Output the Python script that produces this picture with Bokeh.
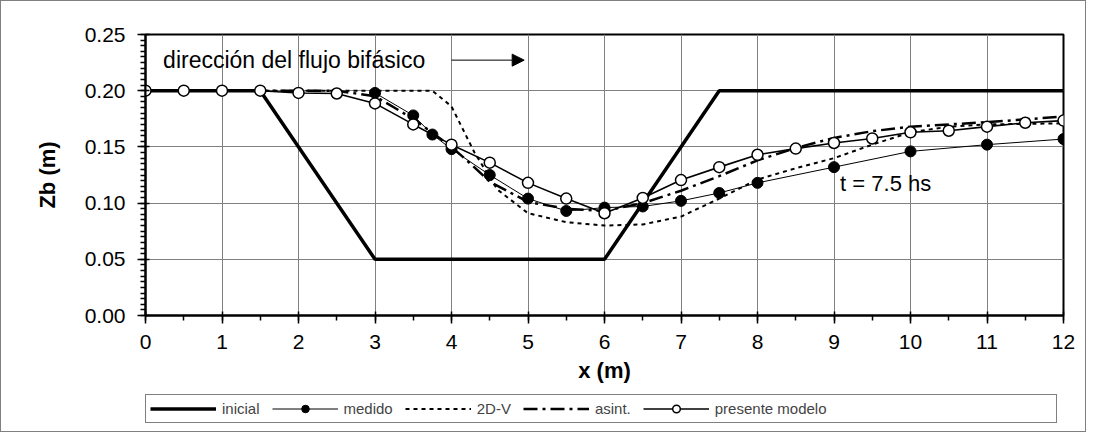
from bokeh.plotting import figure
from bokeh.layouts import column
from bokeh.models import (Range1d, FixedTicker, PrintfTickFormatter, Legend, LegendItem,
                          Label, Arrow, NormalHead)
from bokeh.embed import file_html
from bokeh.resources import INLINE

# ---- data ----
ini_x = [0, 1.5, 3, 6, 7.5, 12]
ini_y = [0.20, 0.20, 0.05, 0.05, 0.20, 0.20]

med_x = [3, 3.5, 3.75, 4, 4.5, 5, 5.5, 6, 6.5, 7, 7.5, 8, 9, 10, 11, 12]
med_y = [0.198, 0.178, 0.161, 0.148, 0.125, 0.104, 0.093, 0.096, 0.097, 0.102,
         0.109, 0.118, 0.132, 0.146, 0.152, 0.157]

v2d_x = [0, 3.75, 4.0, 4.3, 4.6, 5.0, 5.5, 6.0, 6.5, 7.0, 7.5, 8.0, 8.5, 9.0, 9.5,
         10.0, 10.5, 11.0, 12.0]
v2d_y = [0.200, 0.200, 0.186, 0.145, 0.112, 0.091, 0.083, 0.080, 0.081, 0.088, 0.104,
         0.121, 0.131, 0.140, 0.152, 0.163, 0.168, 0.170, 0.171]

asi_x = [0, 2.5, 3.0, 3.5, 4.0, 4.25, 4.5, 5.0, 5.5, 6.0, 6.5, 7.0, 7.5, 8.0, 8.5,
         9.0, 9.5, 10.0, 11.0, 12.0]
asi_y = [0.200, 0.200, 0.195, 0.175, 0.150, 0.135, 0.119, 0.101, 0.095, 0.093, 0.100,
         0.111, 0.124, 0.138, 0.149, 0.158, 0.164, 0.168, 0.172, 0.177]

mod_x = [0, 0.5, 1, 1.5, 2, 2.5, 3, 3.5, 4, 4.5, 5, 5.5, 6, 6.5, 7, 7.5, 8, 8.5, 9,
         9.5, 10, 10.5, 11, 11.5, 12]
mod_y = [0.200, 0.200, 0.200, 0.200, 0.198, 0.1975, 0.1887, 0.170, 0.152, 0.136,
         0.118, 0.104, 0.091, 0.1046, 0.1205, 0.132, 0.143, 0.1485, 0.1535, 0.1575,
         0.163, 0.1644, 0.168, 0.1715, 0.1734]

series_names = ["inicial", "medido", "2D-V", "asint.", "presente modelo"]

x_ticks = list(range(0, 13))
y_ticks = [0.0, 0.05, 0.10, 0.15, 0.20, 0.25]

FONT = "Liberation Sans"
BORDER = "1px solid #7f7f7f"

p = figure(width=1086, height=394, x_range=Range1d(0, 12), y_range=Range1d(0, 0.25),
           output_backend="svg", toolbar_location=None,
           min_border_left=129, min_border_right=24, min_border_top=33,
           min_border_bottom=80)
p.styles = {"border-left": BORDER, "border-right": BORDER, "border-top": BORDER}
p.background_fill_color = "white"
p.border_fill_color = "white"
p.outline_line_color = "black"
p.outline_line_width = 2

p.xaxis.ticker = FixedTicker(ticks=x_ticks, minor_ticks=[i * 0.5 for i in range(25)])
p.yaxis.ticker = FixedTicker(ticks=y_ticks, minor_ticks=[i * 0.005 for i in range(51)])
p.yaxis.formatter = PrintfTickFormatter(format="%.2f")

for ax in (p.xaxis, p.yaxis):
    ax.axis_line_color = "black"
    ax.axis_line_width = 2
    ax.major_tick_line_color = "black"
    ax.major_tick_line_width = 1.5
    ax.minor_tick_line_color = "black"
    ax.minor_tick_line_width = 1.5
    ax.major_tick_in = 4
    ax.major_tick_out = 8
    ax.minor_tick_in = 0
    ax.minor_tick_out = 5
    ax.major_label_text_font = FONT
    ax.major_label_text_font_size = "21px"
    ax.major_label_text_color = "black"
    ax.axis_label_text_font = FONT
    ax.axis_label_text_font_size = "22px"
    ax.axis_label_text_font_style = "bold"
    ax.axis_label_text_color = "black"

p.xaxis.axis_label = "x (m)"
p.yaxis.axis_label = "Zb (m)"
p.xaxis.major_label_standoff = 11
p.xaxis.axis_label_standoff = 6
p.yaxis.major_label_standoff = 12
p.yaxis.axis_label_standoff = 22

p.xgrid.grid_line_color = "#808080"
p.ygrid.grid_line_color = "#808080"
p.xgrid.grid_line_width = 1
p.ygrid.grid_line_width = 1

# ---- series ----
STY_INI = dict(line_color="black", line_width=3.5)
STY_2D = dict(line_color="black", line_width=2, line_dash="4 4")
STY_ASI = dict(line_color="black", line_width=2.5, line_dash="14 5 3 5")
STY_MED_L = dict(line_color="black", line_width=1)
STY_MOD_L = dict(line_color="black", line_width=1.6)
STY_MED_M = dict(marker="circle", size=11, fill_color="black", line_color="black")
STY_MOD_M = dict(marker="circle", size=11, fill_color="white", line_color="black",
                 line_width=1.5)

p.line(ini_x, ini_y, **STY_INI)
p.line(v2d_x, v2d_y, **STY_2D)
p.line(asi_x, asi_y, **STY_ASI)
p.line(med_x, med_y, **STY_MED_L)
p.line(mod_x, mod_y, **STY_MOD_L)
p.scatter(med_x, med_y, **STY_MED_M)
p.scatter(mod_x, mod_y, **STY_MOD_M)

# ---- annotations ----
p.add_layout(Label(x=0.23, y=0.2275, text="dirección del flujo bifásico",
                   text_font=FONT, text_font_size="23px", text_baseline="middle",
                   text_color="black"))
p.add_layout(Arrow(x_start=4.0, y_start=0.2272, x_end=4.95, y_end=0.2272,
                   line_color="black", line_width=1,
                   end=NormalHead(size=12, fill_color="black", line_color="black")))
p.add_layout(Label(x=9.08, y=0.1175, text="t = 7.5 hs", text_font=FONT,
                   text_font_size="22px", text_baseline="middle", text_color="black"))

# ---- legend strip (below the chart); its ranges keep the series out of view ----
q = figure(width=1086, height=38, x_range=Range1d(100, 101), y_range=Range1d(100, 101),
           output_backend="svg", toolbar_location=None, x_axis_type=None,
           y_axis_type=None, min_border_left=144, min_border_right=20,
           min_border_top=0, min_border_bottom=0)
q.styles = {"border-left": BORDER, "border-right": BORDER, "border-bottom": BORDER}
q.outline_line_color = None
q.xgrid.visible = False
q.ygrid.visible = False
q.background_fill_color = "white"
q.border_fill_color = "white"

g_ini = q.line(ini_x, ini_y, **STY_INI)
g_med = [q.line(med_x, med_y, **STY_MED_L), q.scatter(med_x, med_y, **STY_MED_M)]
g_2d = q.line(v2d_x, v2d_y, **STY_2D)
g_asi = q.line(asi_x, asi_y, **STY_ASI)
g_mod = [q.line(mod_x, mod_y, **STY_MOD_L), q.scatter(mod_x, mod_y, **STY_MOD_M)]
g_blank = q.line(ini_x, ini_y, line_alpha=0)

legend = Legend(items=[
    LegendItem(label=series_names[0], renderers=[g_ini]),
    LegendItem(label=series_names[1], renderers=g_med),
    LegendItem(label=series_names[2], renderers=[g_2d]),
    LegendItem(label=series_names[3], renderers=[g_asi]),
    LegendItem(label=series_names[4], renderers=g_mod),
    LegendItem(label="\u00a0" * 34, renderers=[g_blank]),
], orientation="horizontal", location="top_left")
legend.border_line_color = "black"
legend.border_line_width = 1
legend.background_fill_color = "white"
legend.background_fill_alpha = 1
legend.label_text_font = FONT
legend.label_text_font_size = "15px"
legend.glyph_width = 66
legend.glyph_height = 19
legend.label_standoff = 6
legend.spacing = 12
legend.padding = 4
legend.margin = 0
q.add_layout(legend, "center")

layout = column(p, q, spacing=0)
open("out.html", "w").write(file_html(layout, INLINE))
